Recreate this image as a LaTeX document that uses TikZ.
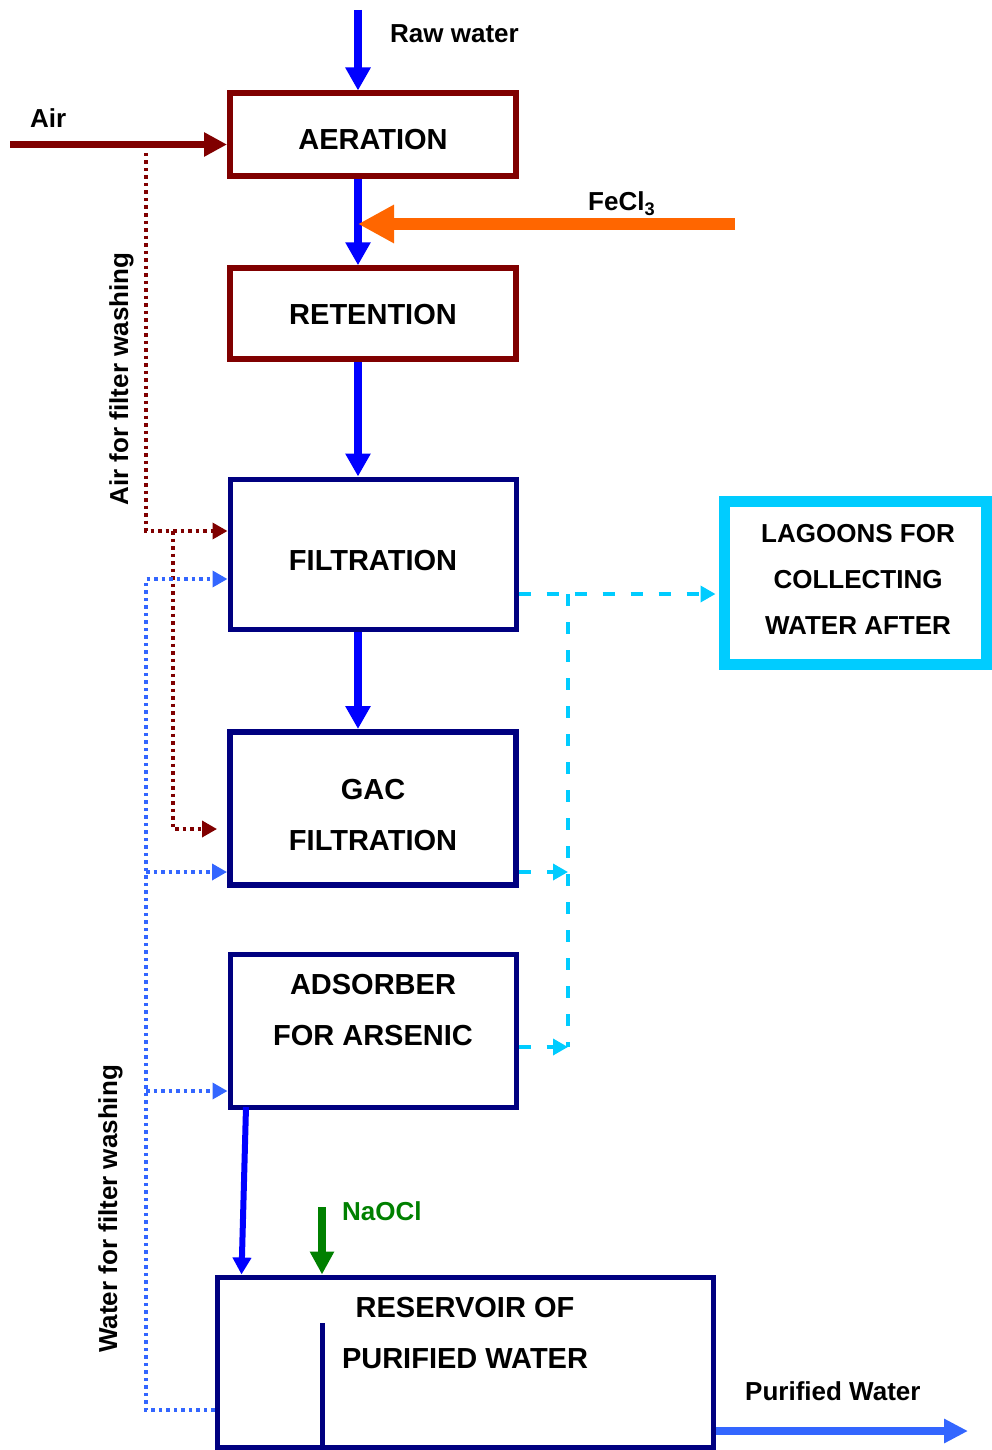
\documentclass[tikz,border=0pt]{standalone}
\usepackage{fontspec}
\setmainfont{Liberation Sans}
\usetikzlibrary{arrows.meta,calc}

\definecolor{maroon}{HTML}{800000}
\definecolor{navyline}{HTML}{000080}
\definecolor{pureblue}{HTML}{0000FF}
\definecolor{skyblue}{HTML}{3366FF}
\definecolor{fecl}{HTML}{FF6600}
\definecolor{lagoon}{HTML}{00CCFF}
\definecolor{dose}{HTML}{008000}

\newcommand{\boxfont}{\fontsize{29}{34}\selectfont\bfseries}
\newcommand{\lblfont}{\fontsize{26}{31}\selectfont\bfseries}

\begin{document}
\begin{tikzpicture}[x=1pt,y=-1pt,
  box/.style={draw, rectangle, inner sep=0pt, minimum width=286pt},
  rbox/.style={box, draw=maroon, line width=5.5pt},
  nbox/.style={box, draw=navyline, line width=5pt},
  boxtext/.style={anchor=base, font=\boxfont, inner sep=0pt},
  lbl/.style={anchor=base west, font=\lblfont, inner sep=0pt},
  flow/.style={draw=pureblue, line width=7.5pt, -{Triangle[length=23pt,width=24pt]}},
  airflow/.style={draw=maroon, line width=7.5pt, -{Triangle[length=23pt,width=23pt]}},
  airdot/.style={draw=maroon, line width=3.5pt, dash pattern=on 3.5pt off 4pt, -{Triangle[length=15pt,width=16pt]}},
  wdot/.style={draw=skyblue, line width=3.5pt, dash pattern=on 3.5pt off 4pt, -{Triangle[length=15pt,width=16pt]}},
  cdash/.style={draw=lagoon, line width=3.5pt, dash pattern=on 12pt off 16pt, -{Triangle[length=15pt,width=16pt]}}
]
\useasboundingbox (0,0) rectangle (991,1450);

% process units
\node[rbox, line width=6pt, minimum height=82.5pt] (aer) at (373,134.75) {};
\node[rbox, minimum height=91pt] (ret) at (373,313.5) {};
\node[nbox, minimum height=150pt] (fil) at (373,554) {};
\node[nbox, line width=6pt, minimum height=153pt] (gac) at (373,808.5) {};
\node[nbox, minimum height=153pt] (ads) at (373,1030.5) {};
\node[nbox, minimum width=496pt, minimum height=170.5pt] (res) at (465,1362.25) {};
\node[draw=lagoon, line width=11pt, rectangle, inner sep=0pt,
      minimum width=262pt, minimum height=163pt] (lag) at (855,582.5) {};

% unit titles
\node[boxtext] (taer) at (373,150) {AERATION};
\node[boxtext] (tret) at (373,324.5) {RETENTION};
\node[boxtext] (tfil) at (373,570.5) {FILTRATION};
\node[boxtext] (tgac1) at (373,799.5) {GAC};
\node[boxtext] (tgac2) at (373,850.5) {FILTRATION};
\node[boxtext] (tads1) at (373,994.5) {ADSORBER};
\node[boxtext] (tads2) at (373,1045.5) {FOR ARSENIC};
\node[boxtext] (tres1) at (465,1317.5) {RESERVOIR OF};
\node[boxtext] (tres2) at (465,1368.5) {PURIFIED WATER};
\node[boxtext, font=\lblfont] (tlag1) at (858,542) {LAGOONS FOR};
\node[boxtext, font=\lblfont] (tlag2) at (858,588) {COLLECTING};
\node[boxtext, font=\lblfont] (tlag3) at (858,634) {WATER AFTER};

% partition inside the reservoir
\draw[navyline, line width=5pt] (322,1323) -- (322,1450);

% stream labels
\node[lbl] (lraw) at (390,43) {Raw water};
\node[lbl] (lair) at (30,128) {Air};
\node[lbl] (lfe) at (588,211) {FeCl\textsubscript{3}};
\node[lbl, text=dose] (lna) at (342,1220.5) {NaOCl};
\node[lbl] (lpw) at (745,1400) {Purified Water};
\node[font=\lblfont, inner sep=0pt, anchor=base, rotate=90] (lairw) at (128,379) {Air for filter washing};
\node[font=\lblfont, inner sep=0pt, anchor=base, rotate=90] (lwatw) at (117,1209) {Water for filter washing};

% main water line
\coordinate (rawin) at (358,10);
\draw[flow] (rawin) -- (rawin |- aer.north);
\draw[flow] (aer.south -| rawin) -- (ret.north -| rawin);
\draw[flow] (ret.south -| rawin) -- (fil.north -| rawin);
\draw[flow] (fil.south -| rawin) -- (gac.north -| rawin);
\coordinate (adsout) at (246,1107);
\draw[flow, line width=6pt, -{Triangle[length=17pt,width=18pt]}] (adsout) -- ($(res.north west)+(27,0)$);

% air supply
\coordinate (airin) at (10,144.5);
\draw[airflow] (airin) -- (airin -| aer.west);

% coagulant dosing
\coordinate (fein) at (735,224);
\draw[draw=fecl, line width=12pt, -{Triangle[length=36pt,width=36pt]}] (fein) -- (fein -| rawin);

% disinfectant dosing
\coordinate (nain) at (322,1207);
\draw[draw=dose, line width=8pt, -{Triangle[length=23pt,width=23pt]}] (nain) -- (nain |- res.north);

% treated water out
\coordinate (pwout) at (968,1431);
\draw[draw=skyblue, line width=8pt, -{Triangle[length=24pt,width=23pt]}] (res.east |- pwout) -- (pwout);

% backwash air
\coordinate (airtap) at (146,153);
\coordinate (airc) at (146,531);
\coordinate (airb) at (173,531);
\coordinate (airbc) at (173,829);
\draw[airdot] (airtap) -- (airc) -- (airc -| fil.west);
\draw[airdot] (airb) -- (airbc) -- ($(airbc -| gac.west)+(-10,0)$);

% backwash water
\coordinate (wbot) at (146,1410);
\coordinate (wc) at (146,579);
\draw[wdot] (wbot -| res.west) -- (wbot) -- (wc) -- (wc -| fil.west);
\coordinate (wg) at (146,872);
\coordinate (wa) at (146,1091);
\draw[wdot] (wg) -- (wg -| gac.west);
\draw[wdot] (wa) -- (wa -| ads.west);

% wash water to lagoons
\coordinate (lagin) at (568,594);
\coordinate (cg) at (568,872);
\coordinate (ca) at (568,1047);
\draw[cdash, shorten >=3pt] (lagin -| fil.east) -- (lagin -| lag.west);
\draw[cdash, -] (lagin) -- (ca);
\draw[cdash] (cg -| gac.east) -- (cg);
\draw[cdash] (ca -| ads.east) -- (ca);

\end{tikzpicture}
\end{document}
